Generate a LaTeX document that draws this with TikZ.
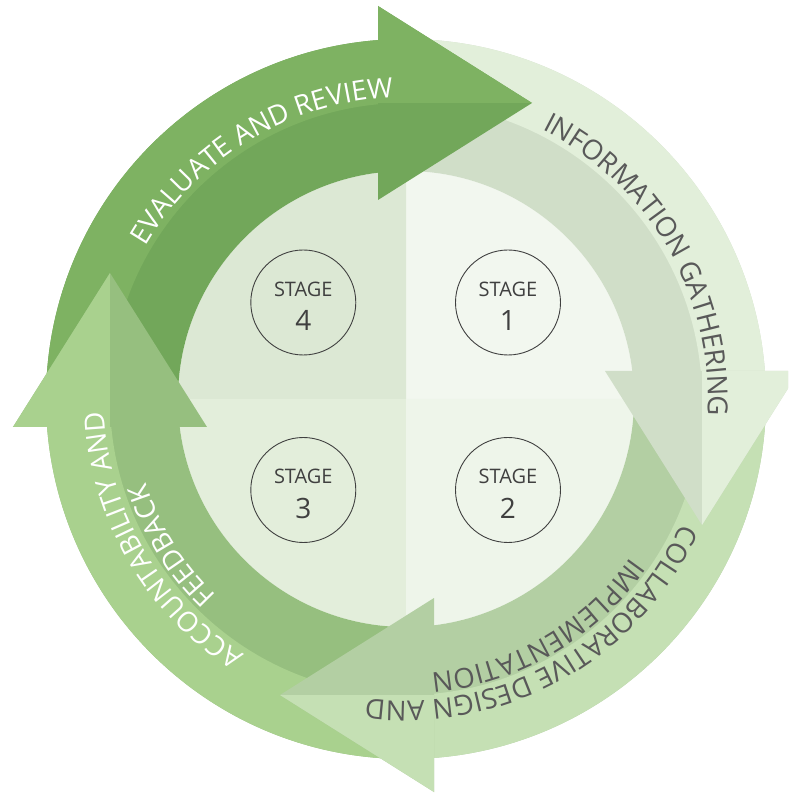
\documentclass[tikz,border=0pt]{standalone}
\usepackage{fontspec}
\setmainfont{Open Sans}
\usetikzlibrary{decorations.text}
\definecolor{evo}{HTML}{7EB262}
\definecolor{evi}{HTML}{72A75A}
\definecolor{ino}{HTML}{E2EFDA}
\definecolor{ini}{HTML}{D0DEC8}
\definecolor{coo}{HTML}{C5E0B4}
\definecolor{coi}{HTML}{B3CFA3}
\definecolor{aco}{HTML}{A9D18E}
\definecolor{aci}{HTML}{96BF7F}
\definecolor{qa}{HTML}{F2F7EF}
\definecolor{qb}{HTML}{EEF5EA}
\definecolor{qc}{HTML}{E3EEDB}
\definecolor{qd}{HTML}{DCE8D4}
\definecolor{txtg}{HTML}{595959}
\definecolor{stg}{HTML}{404040}
\newcommand{\arcfont}{\fontsize{27.6pt}{27.6pt}\selectfont}
\newcommand{\bandpair}[3]{%
  \begin{scope}[rotate=#1]
    \fill[#3] (180:360pt) arc[start angle=180,end angle=90,radius=360pt] -- (90:228pt) arc[start angle=90,end angle=180,radius=228pt] -- cycle;
    \fill[#2] (180:360pt) arc[start angle=180,end angle=90,radius=360pt] -- (90:296pt) arc[start angle=90,end angle=180,radius=296pt] -- cycle;
  \end{scope}}
\newcommand{\headpair}[3]{%
  \begin{scope}[rotate=#1]
    \fill[#3] (-28,393) -- (126,296) -- (-28,199) -- cycle;
    \fill[#2] (-28,296) -- (-28,393) -- (126,296) -- cycle;
  \end{scope}}
\tikzset{
  stagec/.style={circle,draw=stg,line width=0.9pt,minimum size=105pt,inner sep=0pt},
  stagew/.style={text=stg,inner sep=0pt,font=\fontsize{20pt}{20pt}\selectfont},
  stagen/.style={text=stg,inner sep=0pt,font=\fontsize{28pt}{28pt}\selectfont},
}
\begin{document}
\begin{tikzpicture}[x=1pt,y=1pt]
\useasboundingbox (-406,-395) rectangle (382,399);
\clip (-406,-395) rectangle (382,399);
\fill[white] (-406,-395) rectangle (382,399);
% quadrants
\fill[qa] (0,0) -- (0:228pt) arc[start angle=0,end angle=90,radius=228pt] -- cycle;
\fill[qd] (0,0) -- (90:228pt) arc[start angle=90,end angle=180,radius=228pt] -- cycle;
\fill[qc] (0,0) -- (180:228pt) arc[start angle=180,end angle=270,radius=228pt] -- cycle;
\fill[qb] (0,0) -- (270:228pt) arc[start angle=270,end angle=360,radius=228pt] -- cycle;
% bands
\bandpair{0}{evo}{evi}
\bandpair{-90}{ino}{ini}
\bandpair{-180}{coo}{coi}
\bandpair{-270}{aco}{aci}
% heads
\headpair{0}{evo}{evi}
\headpair{-90}{ino}{ini}
\headpair{-180}{coo}{coi}
\headpair{-270}{aco}{aci}
% stage circles
\node[stagec] (s4) at (-102.7,96.5) {};
\node[stagec] (s1) at (102,96.5) {};
\node[stagec] (s3) at (-102.7,-91) {};
\node[stagec] (s2) at (102,-91) {};
\node[stagew] (s4w) at ([yshift=13.5pt]s4.center) {STAGE};
\node[stagen] (s4n) at ([yshift=-18pt]s4.center) {4};
\node[stagew] (s1w) at ([yshift=13.5pt]s1.center) {STAGE};
\node[stagen] (s1n) at ([yshift=-18pt]s1.center) {1};
\node[stagew] (s3w) at ([yshift=13.5pt]s3.center) {STAGE};
\node[stagen] (s3n) at ([yshift=-18pt]s3.center) {3};
\node[stagew] (s2w) at ([yshift=13.5pt]s2.center) {STAGE};
\node[stagen] (s2n) at ([yshift=-18pt]s2.center) {2};
% arc texts
\path[decorate,decoration={text along path,text align=center,text color=white,
  text={|\arcfont|EVALUATE AND REVIEW}}]
  (171:302pt) arc[start angle=171,end angle=71,radius=302pt];
\path[decorate,decoration={text along path,text align=center,text color=txtg,
  text={|\arcfont|INFORMATION GATHERING}}]
  (80:302pt) arc[start angle=80,end angle=-20,radius=302pt];
\path[decorate,decoration={text along path,text align=center,text color=txtg,
  text={|\arcfont|COLLABORATIVE DESIGN AND}}]
  (-11:302pt) arc[start angle=-11,end angle=-111,radius=302pt];
\path[decorate,decoration={text along path,text align=center,text color=txtg,
  text={|\arcfont|IMPLEMENTATION}}]
  (-10:275pt) arc[start angle=-10,end angle=-110,radius=275pt];
\path[decorate,decoration={text along path,text align=center,text color=white,
  text={|\arcfont|ACCOUNTABILITY AND}}]
  (260:302pt) arc[start angle=260,end angle=160,radius=302pt];
\path[decorate,decoration={text along path,text align=center,text color=white,
  text={|\arcfont|FEEDBACK}}]
  (262:273pt) arc[start angle=262,end angle=162,radius=273pt];
\end{tikzpicture}
\end{document}
